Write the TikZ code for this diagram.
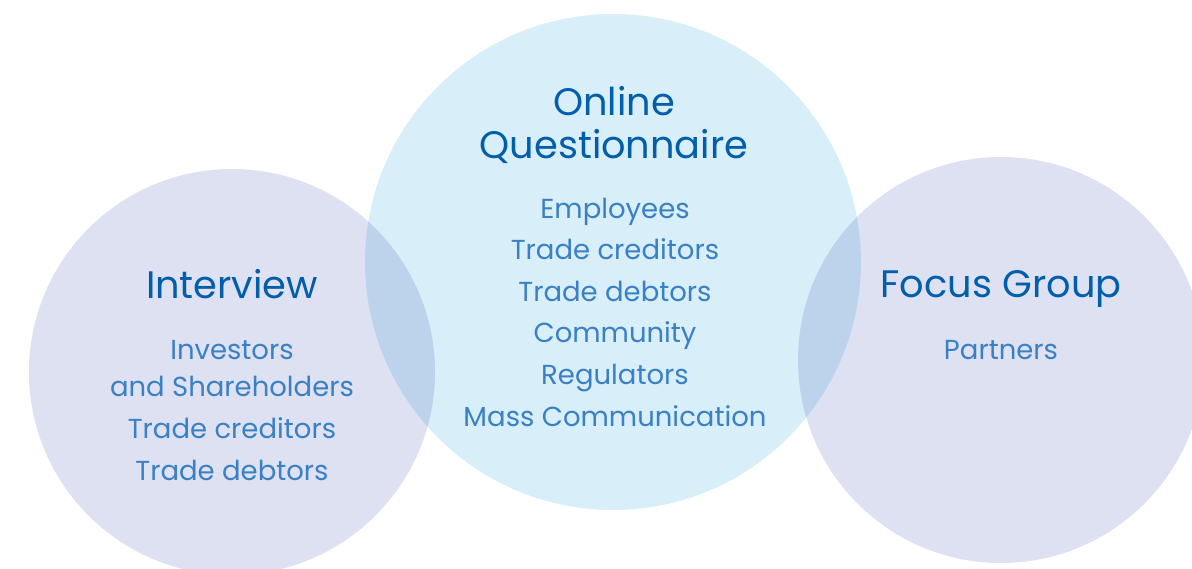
\documentclass[tikz,border=0pt]{standalone}
\usepackage{fontspec}
\setmainfont{Poppins}
\usetikzlibrary{positioning}

\definecolor{lavender}{RGB}{222,225,242}
\definecolor{skyfill}{RGB}{216,238,249}
\definecolor{overlapfill}{RGB}{189,211,236}
\definecolor{titleblue}{RGB}{0,94,170}
\definecolor{itemblue}{RGB}{58,128,196}

\tikzset{
  heading/.style={text=titleblue, font=\fontsize{38.3}{43}\selectfont, align=center, anchor=base, inner sep=0pt},
  items/.style={text=itemblue, font=\fontsize{27.5}{41.6}\selectfont, align=center, anchor=base, inner sep=0pt},
}

\begin{document}
\begin{tikzpicture}[x=1pt,y=-1pt]
    \useasboundingbox (0,0) rectangle (1192,568);
    \clip (0,0) rectangle (1192,568);

    % Circle centres
    \coordinate (interview) at (232,372);
    \coordinate (online) at (613,262);
    \coordinate (focus) at (1001,360);

    % Method circles
    \fill[lavender] (interview) circle (203);
    \fill[lavender] (focus) circle (203);
    \fill[skyfill] (online) circle (248);

    % Overlaps
    \begin{scope}
        \clip (online) circle (248);
        \fill[overlapfill] (interview) circle (203);
        \fill[overlapfill] (focus) circle (203);
    \end{scope}

    % Interview (base anchor sits on the last line)
    \node[heading] (intTitle) at (232,298) {Interview};
    \node[items] (intList) at (232,480) {Investors\\[-4.6pt]and Shareholders\\Trade creditors\\Trade debtors};

    % Online questionnaire
    \node[heading] (onlTitle) at (614,158) {Online\\Questionnaire};
    \node[items] (onlList) at (615,426) {Employees\\Trade creditors\\Trade debtors\\Community\\Regulators\\Mass Communication};

    % Focus group
    \node[heading] (focTitle) at (1001,297) {Focus Group};
    \node[items] (focList) at (1001,359) {Partners};
\end{tikzpicture}
\end{document}
